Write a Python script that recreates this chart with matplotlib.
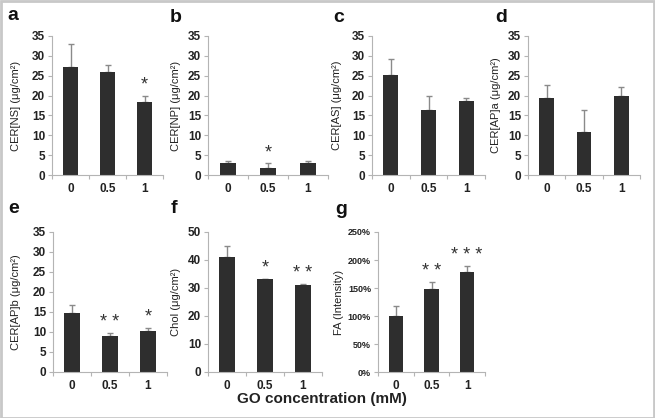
import matplotlib
matplotlib.use("Agg")
import matplotlib.pyplot as plt
from matplotlib.patches import Rectangle
from matplotlib.ticker import FuncFormatter

plt.rcParams['font.family'] = ['Liberation Sans', 'DejaVu Sans']

categories = ["0", "0.5", "1"]

letters = ["a", "b", "c", "d", "e", "f", "g"]
ylabels = ["CER[NS] (μg/cm²)", "CER[NP] (μg/cm²)", "CER[AS] (μg/cm²)",
           "CER[AP]a (μg/cm²)", "CER[AP]b (μg/cm²)", "Chol (μg/cm²)", "FA (Intensity)"]

means_a = [27.3, 25.9, 18.4]
errs_a = [5.7, 1.8, 1.6]
means_b = [3.0, 1.8, 2.9]
errs_b = [0.5, 1.2, 0.6]
means_c = [25.3, 16.3, 18.6]
errs_c = [4.0, 3.5, 0.7]
means_d = [19.3, 10.8, 19.8]
errs_d = [3.4, 5.5, 2.4]
means_e = [14.7, 9.0, 10.2]
errs_e = [2.1, 0.7, 0.8]
means_f = [41.0, 33.1, 30.9]
errs_f = [4.0, 0.2, 0.4]
means_g = [100, 148, 178]
errs_g = [17, 12, 11]

stars_a = ["", "", "*"]
stars_b = ["", "*", ""]
stars_c = ["", "", ""]
stars_d = ["", "", ""]
stars_e = ["", "**", "*"]
stars_f = ["", "*", "**"]
stars_g = ["", "**", "***"]

ymax = [35, 35, 35, 35, 35, 50, 250]
ystep = [5, 5, 5, 5, 5, 10, 50]

means = [means_a, means_b, means_c, means_d, means_e, means_f, means_g]
errs = [errs_a, errs_b, errs_c, errs_d, errs_e, errs_f, errs_g]
stars = [stars_a, stars_b, stars_c, stars_d, stars_e, stars_f, stars_g]

W, H = 655, 418
fig = plt.figure(figsize=(W / 100, H / 100), dpi=100)

# axes boxes in pixels: (left, right, top, bottom)
boxes = [(52, 163, 36, 175), (208, 328, 36, 175), (372, 485, 36, 175), (528, 640, 36, 175),
         (53, 167, 232, 372), (208, 322, 232, 372), (378, 485, 232, 372)]
letter_pos = [(7, 20), (170, 22), (333, 22), (495, 22), (8, 213), (171, 213), (335, 214)]
ylab_x = [16, 176, 337, 496, 16, 176, 339]

spine_col = "#b4b4b4"
bar_col = "#2e2e2e"
txt_col = "#222222"

for i in range(7):
    l, r, t, b = boxes[i]
    ax = fig.add_axes([l / W, 1 - b / H, (r - l) / W, (b - t) / H])
    x = list(range(len(categories)))
    ax.bar(x, means[i], width=0.4, color=bar_col, zorder=2)
    ax.errorbar(x, means[i], yerr=[[0] * 3, errs[i]], fmt="none", ecolor="#8a8a8a",
                elinewidth=1.0, capsize=2.5, capthick=1.0, zorder=1)
    for xi, (m, e, s) in enumerate(zip(means[i], errs[i], stars[i])):
        if s:
            ax.text(xi, m + e + ymax[i] * 0.015, " ".join(s) if len(s) > 1 else s,
                    ha="center", va="bottom", fontsize=13, color="#333333")
    ax.set_xlim(-0.5, 2.5)
    ax.set_ylim(0, ymax[i])
    ax.set_yticks(range(0, ymax[i] + 1, ystep[i]))
    if i == 6:
        ax.yaxis.set_major_formatter(FuncFormatter(lambda v, p: f"{int(v)}%"))
    ax.set_xticks(x)
    ax.set_xticklabels(categories)
    ax.set_xticks([-0.5, 0.5, 1.5, 2.5], minor=True)
    ax.tick_params(axis="x", which="major", length=0, pad=6, labelsize=8.5, colors=txt_col)
    ax.tick_params(axis="x", which="minor", length=3, width=0.8, color=spine_col, direction="out")
    ax.tick_params(axis="y", length=3, width=0.8, color=spine_col, pad=2,
                   labelsize=6.5 if i == 6 else 8.5, labelcolor=txt_col)
    for lab in ax.get_xticklabels() + ax.get_yticklabels():
        lab.set_fontweight("bold")
    for sp in ["top", "right"]:
        ax.spines[sp].set_visible(False)
    for sp in ["left", "bottom"]:
        ax.spines[sp].set_color(spine_col)
        ax.spines[sp].set_linewidth(0.8)
    ax.patch.set_alpha(0)
    fig.text(ylab_x[i] / W, 1 - ((t + b) / 2) / H, ylabels[i], rotation=90,
             ha="center", va="center", fontsize=8, color=txt_col)
    lx, ly = letter_pos[i]
    fig.text(lx / W, 1 - ly / H, letters[i], fontsize=14, fontweight="bold",
             ha="left", va="baseline", color="#111111")

fig.text(322 / W, 1 - 399 / H, "GO concentration (mM)", ha="center", va="center",
         fontsize=11, fontweight="bold", color=txt_col)

fig.patches.append(Rectangle((0.5 / W, 0.5 / H), 1 - 1.5 / W, 1 - 1.5 / H,
                             transform=fig.transFigure, fill=False,
                             edgecolor="#c8c8c8", linewidth=2))

fig.savefig("out.png", dpi=100)
